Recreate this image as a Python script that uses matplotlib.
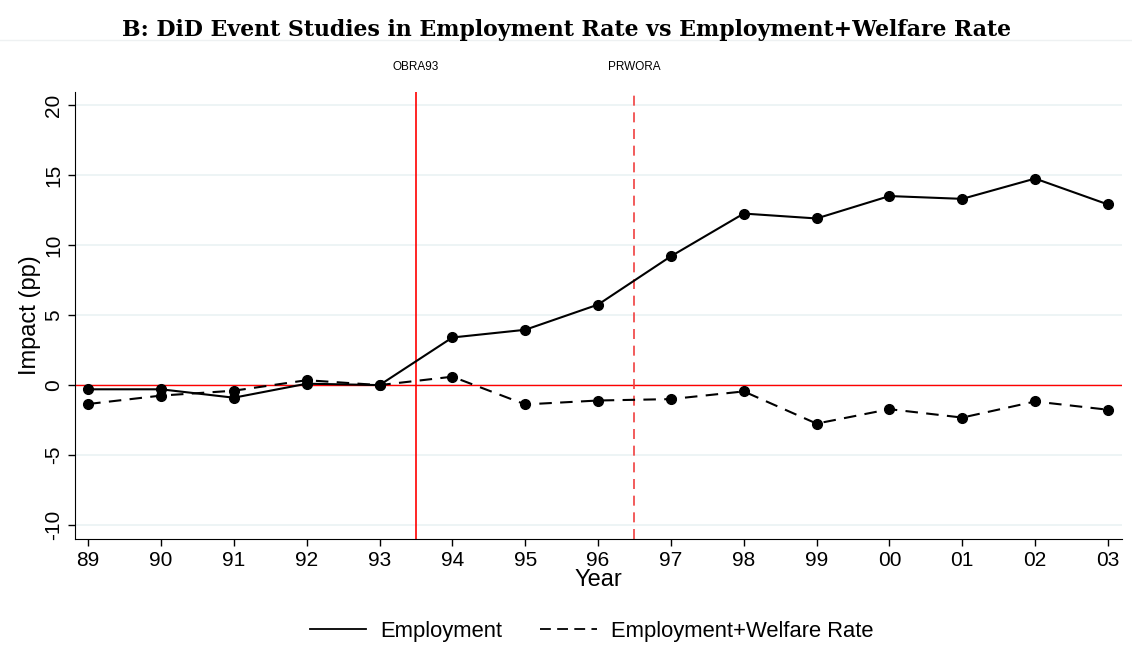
import numpy as np
import matplotlib.pyplot as plt
from matplotlib.lines import Line2D

years = ['89', '90', '91', '92', '93', '94', '95', '96', '97', '98', '99', '00', '01', '02', '03']
employment = [-0.3, -0.3, -0.9, 0.1, 0.0, 3.4, 3.95, 5.75, 9.2, 12.25, 11.9, 13.5, 13.3, 14.75, 12.9]
emp_welfare = [-1.35, -0.75, -0.4, 0.35, 0.0, 0.6, -1.38, -1.1, -1.0, -0.45, -2.75, -1.72, -2.32, -1.17, -1.76]
policy_names = ['OBRA93', 'PRWORA']
policy_pos = [4.5, 7.5]   # between 93/94 and 96/97
yticks = [-10, -5, 0, 5, 10, 15, 20]

plt.rcParams['font.family'] = ['Liberation Sans', 'DejaVu Sans']

fig = plt.figure(figsize=(11.32, 6.48), dpi=100)
ax = fig.add_axes([0.0663, 0.168, 0.9247, 0.69])

x = np.arange(len(years))
ax.set_xlim(-0.18, len(years) - 1 + 0.19)
ax.set_ylim(-11, 20.93)

for t in yticks:
    ax.axhline(t, color='#eaf2f3', lw=1.2, zorder=0)
ax.axhline(0, color='red', lw=1, zorder=1)

ax.axvline(policy_pos[0], color='red', lw=1.2, zorder=1)
ax.axvline(policy_pos[1], color='#f04040', lw=1.2, ls=(0, (6, 4)), zorder=1)
for name, p in zip(policy_names, policy_pos):
    ax.text(p, 22.7, name, ha='center', va='center', fontsize=8.5,
            transform=ax.transData, clip_on=False)

ax.plot(x, employment, color='black', lw=1.5, marker='o', ms=7, zorder=3)
ax.plot(x, emp_welfare, color='black', lw=1.5, ls=(0, (6, 4)), marker='o', ms=7, zorder=3)

ax.set_xticks(x)
ax.set_xticklabels(years)
ax.set_yticks(yticks)
ax.set_yticklabels([str(t) if t >= 0 else '-' + str(-t) for t in yticks], rotation=90, va='center')
ax.tick_params(labelsize=15, length=5, width=1)
ax.set_xlabel('Year', fontsize=17, labelpad=-1)
ax.set_ylabel('Impact (pp)', fontsize=17, labelpad=2)
for s in ['top', 'right']:
    ax.spines[s].set_visible(False)

handles = [Line2D([], [], color='black', lw=1.3),
           Line2D([], [], color='black', lw=1.3, ls=(0, (6, 3.5)))]
fig.legend(handles, ['Employment', 'Employment+Welfare Rate'], loc='center',
           bbox_to_anchor=(0.5227, 0.026), ncol=2, frameon=False, fontsize=15.8,
           handlelength=2.56, columnspacing=1.73, handletextpad=0.67)

fig.text(0.5, 0.953, 'B: DiD Event Studies in Employment Rate vs Employment+Welfare Rate',
         ha='center', va='center', fontsize=15.8, fontweight='bold', family='DejaVu Serif')
fig.add_artist(Line2D([0, 1], [0.938, 0.938], color='#eef1f2', lw=1, transform=fig.transFigure))

fig.savefig('out.png', dpi=100)
